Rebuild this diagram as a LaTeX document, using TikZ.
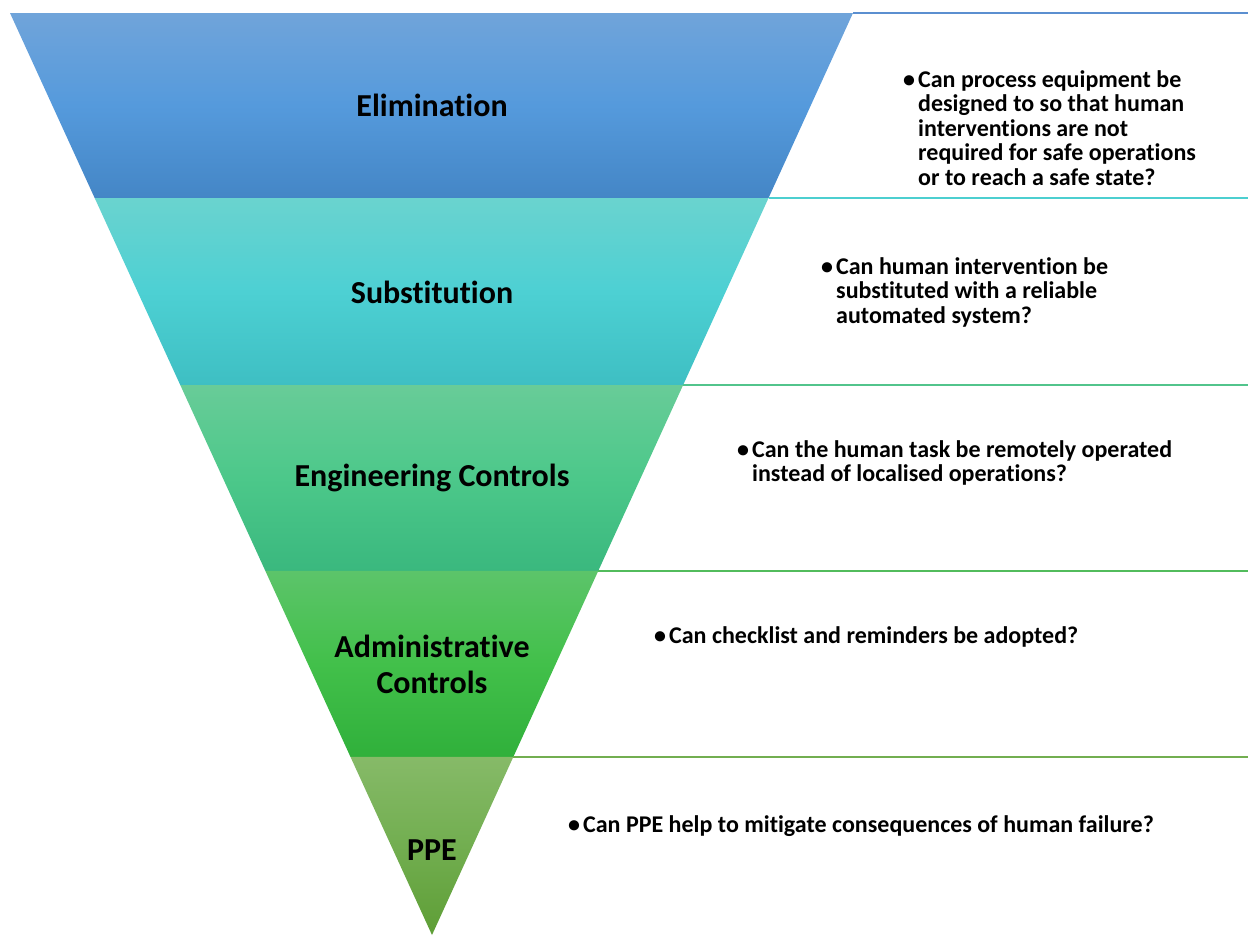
\documentclass[tikz,border=0pt]{standalone}
\usepackage{fontspec}
\setmainfont{Carlito}[Ligatures=NoCommon]
\usetikzlibrary{calc}

% band colours (top / middle / bottom)
\definecolor{bAt}{HTML}{70A4DA}\definecolor{bAm}{HTML}{559ADC}\definecolor{bAb}{HTML}{4486C6}
\definecolor{bBt}{HTML}{6AD3CF}\definecolor{bBm}{HTML}{4DD0D3}\definecolor{bBb}{HTML}{3EBFC3}
\definecolor{bCt}{HTML}{68CC98}\definecolor{bCm}{HTML}{4CC88A}\definecolor{bCb}{HTML}{3AB87E}
\definecolor{bDt}{HTML}{5CC46A}\definecolor{bDm}{HTML}{42C04A}\definecolor{bDb}{HTML}{30B03B}
\definecolor{bEt}{HTML}{86BA68}\definecolor{bEm}{HTML}{72AE50}\definecolor{bEb}{HTML}{5E9E36}
% separator line colours
\definecolor{lA}{HTML}{5B8FD0}
\definecolor{lB}{HTML}{4CCFD0}
\definecolor{lC}{HTML}{52C48C}
\definecolor{lD}{HTML}{52BC5C}
\definecolor{lE}{HTML}{72AE50}

\newcommand{\bandfill}[5]{%
  \path[top color=#3,bottom color=#5,middle color=#4]
    ($(TL)!#1!(A)$) -- ($(TR)!#1!(A)$) -- ($(TR)!#2!(A)$) -- ($(TL)!#2!(A)$) -- cycle;}

\tikzset{
  level/.style={font=\bfseries\fontsize{32}{36}\selectfont, align=center, inner sep=0pt},
  question/.style={font=\bfseries\fontsize{24}{24.5}\selectfont, anchor=base west, inner sep=0pt},
  rule/.style={line width=1.1pt}
}
\newcommand{\bul}{\makebox[15pt][l]{•}}
\newcommand{\ind}{\hspace{15pt}}

\begin{document}
\begin{tikzpicture}[x=1pt,y=-1pt]
\useasboundingbox (0,0) rectangle (1248,935);

\coordinate (TL) at (10,13);
\coordinate (TR) at (853,13);
\coordinate (A) at (432,935);
\coordinate (E) at (1248,0);

% funnel bands
\bandfill{0}{0.2007}{bAt}{bAm}{bAb}
\bandfill{0.2007}{0.4035}{bBt}{bBm}{bBb}
\bandfill{0.4035}{0.6052}{bCt}{bCm}{bCb}
\bandfill{0.6052}{0.8069}{bDt}{bDm}{bDb}
\bandfill{0.8069}{1}{bEt}{bEm}{bEb}

% right edge points at the top of each band
\coordinate (r1) at ($(TR)!0!(A)$);
\coordinate (r2) at ($(TR)!0.2007!(A)$);
\coordinate (r3) at ($(TR)!0.4035!(A)$);
\coordinate (r4) at ($(TR)!0.6052!(A)$);
\coordinate (r5) at ($(TR)!0.8069!(A)$);

\draw[rule, lA] (r1) -- (r1 -| E);
\draw[rule, lB] (r2) -- (r2 -| E);
\draw[rule, lC] (r3) -- (r3 -| E);
\draw[rule, lD] (r4) -- (r4 -| E);
\draw[rule, lE] (r5) -- (r5 -| E);

% level labels
\node[level] (elim) at (432,105) {Elimination};
\node[level] (subs) at (432,292) {Substitution};
\node[level] (eng)  at (432,478) {Engineering Controls};
\node[level] (adm)  at (432,664) {Administrative\\Controls};
\node[level] (ppe)  at (432,850) {PPE};

% questions
\node[question] (q1) at (903,87) {\begin{tabular}[t]{@{}l@{}}
\bul Can process equipment be\\
\ind designed to so that human\\
\ind interventions are not\\
\ind required for safe operations\\
\ind or to reach a safe state?\end{tabular}};
\node[question] (q2) at (821,274) {\begin{tabular}[t]{@{}l@{}}
\bul Can human intervention be\\
\ind substituted with a reliable\\
\ind automated system?\end{tabular}};
\node[question] (q3) at (737,457) {\begin{tabular}[t]{@{}l@{}}
\bul Can the human task be remotely operated\\
\ind instead of localised operations?\end{tabular}};
\node[question] (q4) at (654,643) {\bul Can checklist and reminders be adopted?};
\node[question] (q5) at (568,832) {\bul Can PPE help to mitigate consequences of human failure?};
\end{tikzpicture}
\end{document}
